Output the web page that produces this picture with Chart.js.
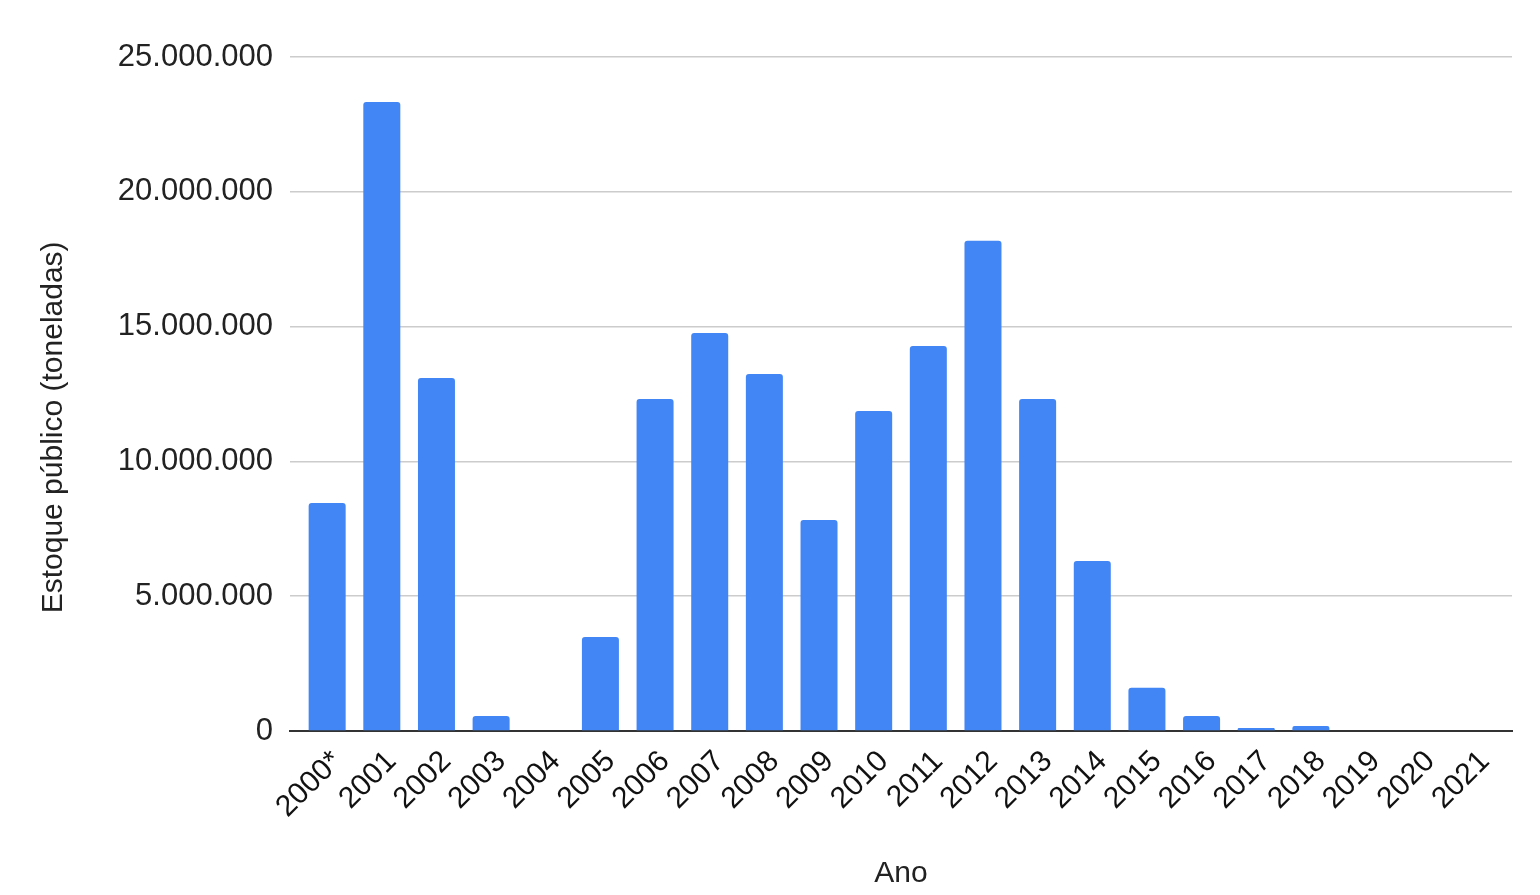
<!DOCTYPE html>
<html lang="pt-BR">
<head>
    <meta charset="UTF-8">
    <title>Estoque público</title>
    <script src="https://cdn.jsdelivr.net/npm/chart.js"></script>
    <style>
        html, body { margin: 0; padding: 0; background: #fff; }
        .chart-container { width: 1540px; height: 895px; }
    </style>
</head>
<body>
    <div class="chart-container">
        <canvas id="stockChart"></canvas>
    </div>
    <script>
        const years = ['2000*', '2001', '2002', '2003', '2004', '2005', '2006', '2007', '2008', '2009', '2010',
            '2011', '2012', '2013', '2014', '2015', '2016', '2017', '2018', '2019', '2020', '2021'];
        // estoque público em toneladas
        const stock = [8460000, 23330000, 13090000, 560000, 0, 3490000, 12310000, 14760000, 13240000, 7830000, 11870000,
            14280000, 18180000, 12310000, 6310000, 1600000, 560000, 110000, 190000, 0, 0, 0];
        const yTicks = [0, 5000000, 10000000, 15000000, 20000000, 25000000];

        const fontFamily = '"Liberation Sans", Arial, sans-serif';

        function formatBR(v) {
            return String(v).replace(/\B(?=(\d{3})+(?!\d))/g, '.');
        }

        // x linear (índice do ano) para deixar a margem lateral igual à do original
        const points = stock.map((v, i) => ({ x: i, y: v }));

        const ctx = document.getElementById('stockChart').getContext('2d');
        new Chart(ctx, {
            type: 'bar',
            data: {
                datasets: [{
                    label: 'Estoque público (toneladas)',
                    data: points,
                    backgroundColor: '#4285f4',
                    borderRadius: 3,
                    barPercentage: 0.677,
                    categoryPercentage: 1
                }]
            },
            options: {
                responsive: true,
                maintainAspectRatio: false,
                animation: false,
                layout: { padding: { top: 57, right: 28, bottom: 0, left: 0 } },
                plugins: {
                    legend: { display: false },
                    tooltip: { enabled: false }
                },
                scales: {
                    x: {
                        type: 'linear',
                        offset: false,
                        min: -0.68,
                        max: years.length - 1 + 0.68,
                        afterBuildTicks: (scale) => { scale.ticks = years.map((y, i) => ({ value: i })); },
                        grid: { display: false, offset: false },
                        border: { color: '#333', width: 2 },
                        ticks: {
                            color: '#111',
                            font: { family: fontFamily, size: 30 },
                            minRotation: 45,
                            maxRotation: 45,
                            autoSkip: false,
                            padding: 5,
                            labelOffset: 10,
                            callback: (v) => years[v]
                        },
                        title: {
                            display: true,
                            text: 'Ano',
                            color: '#222',
                            font: { family: fontFamily, size: 30 },
                            padding: { top: 0, bottom: 3 }
                        },
                        afterFit: (scale) => { scale.height = 164; }
                    },
                    y: {
                        min: 0,
                        max: 25000000,
                        afterBuildTicks: (scale) => { scale.ticks = yTicks.map(v => ({ value: v })); },
                        grid: { color: '#cccccc', lineWidth: 1.5, drawTicks: false },
                        border: { display: false },
                        ticks: {
                            color: '#222',
                            font: { family: fontFamily, size: 31 },
                            padding: 17,
                            callback: (v) => formatBR(v)
                        },
                        title: {
                            display: true,
                            // espaços no fim para descer o título como no original
                            text: 'Estoque público (toneladas)\u00a0\u00a0\u00a0\u00a0\u00a0\u00a0\u00a0\u00a0',
                            color: '#222',
                            font: { family: fontFamily, size: 30 },
                            padding: { top: 36, bottom: 0 }
                        },
                        afterFit: (scale) => { scale.width = 290; }
                    }
                }
            }
        });
    </script>
</body>
</html>
